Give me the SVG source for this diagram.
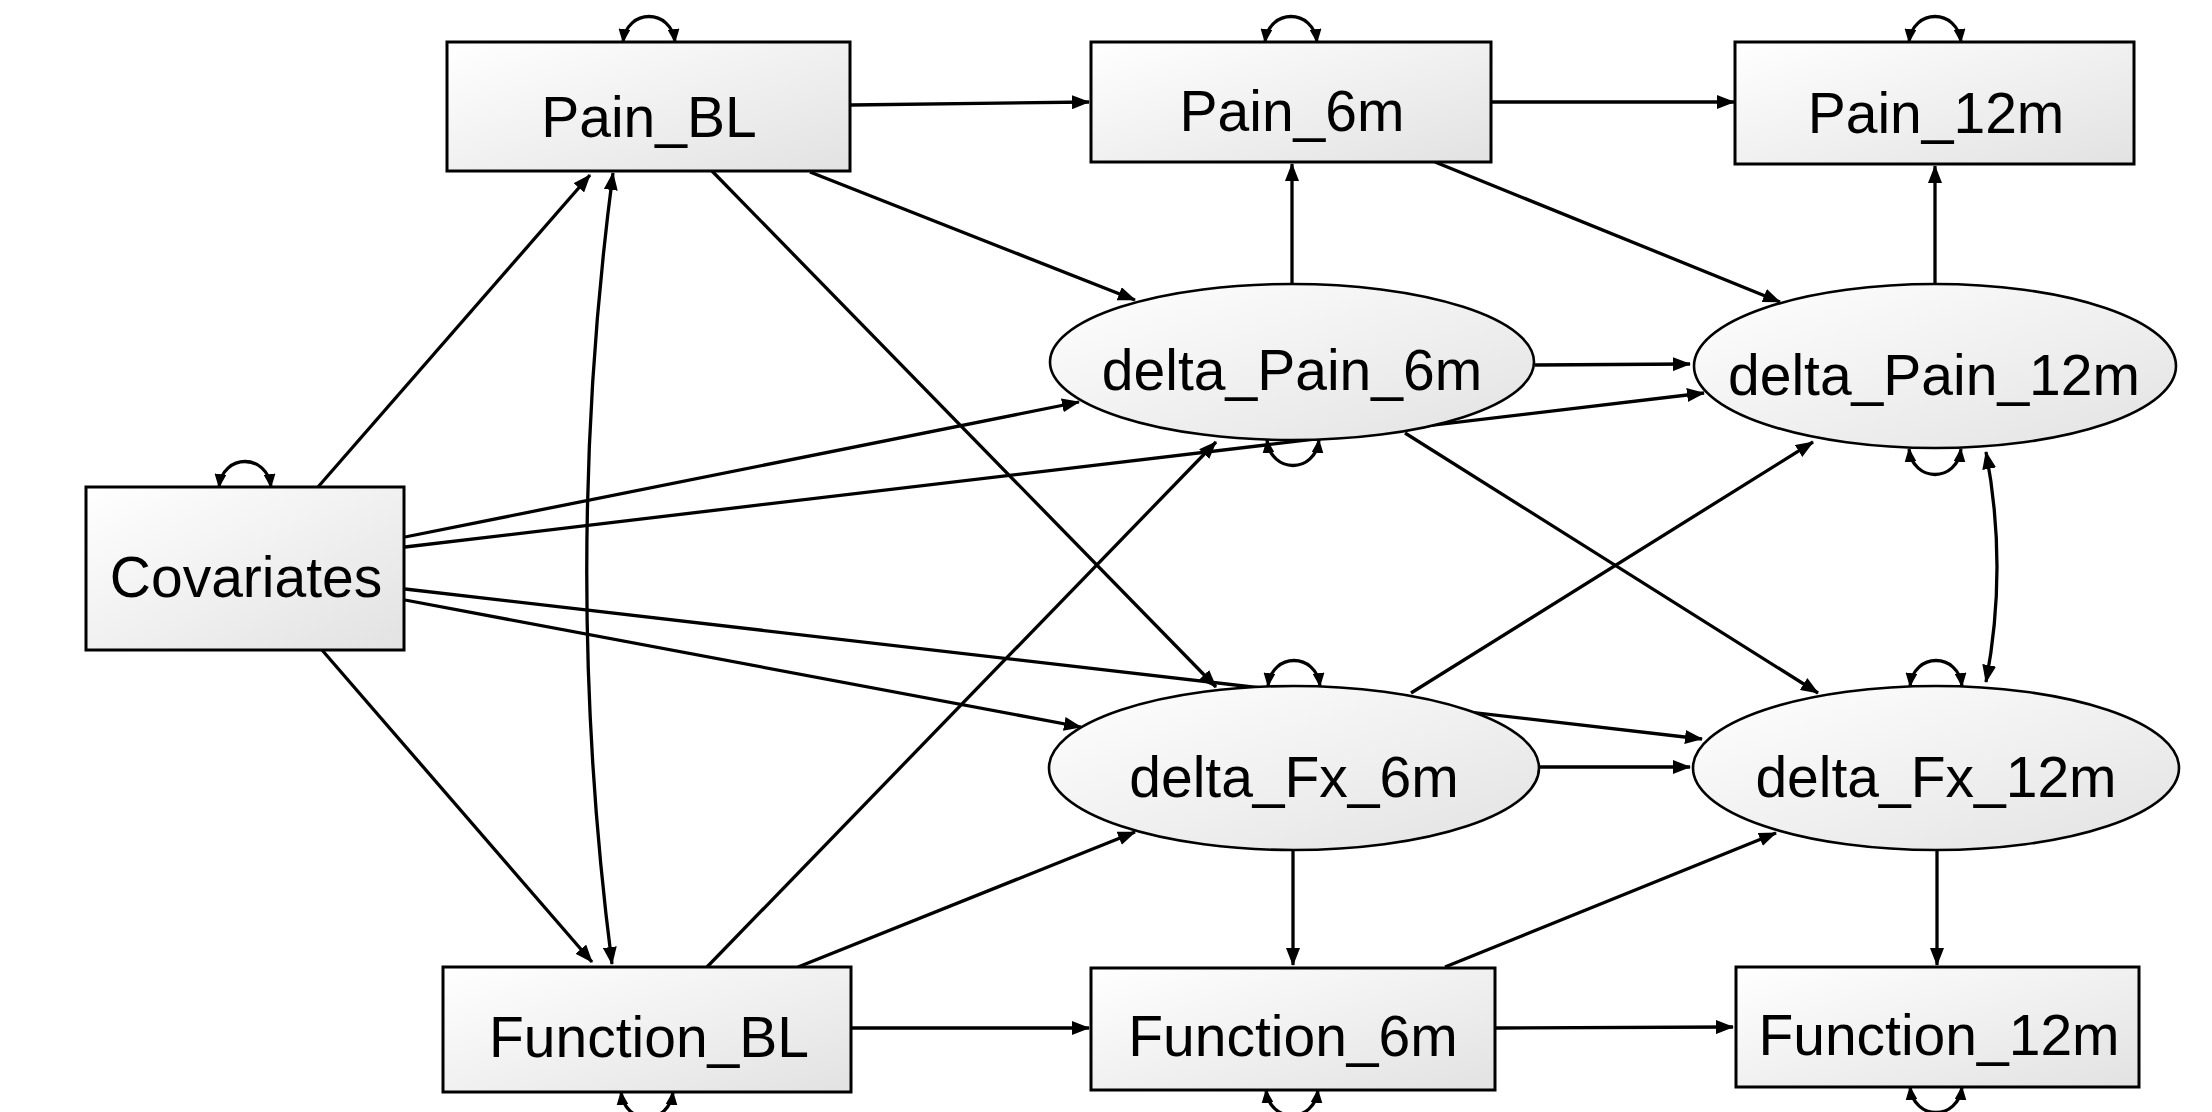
<svg xmlns="http://www.w3.org/2000/svg" width="2212" height="1112" viewBox="0 0 2212 1112">
<style>
.box{fill:url(#g);stroke:#000;stroke-width:3}
.ell{fill:url(#g);stroke:#000;stroke-width:2.6}
.lbl{font-family:"Liberation Sans",Arial,sans-serif;font-size:57px;fill:#000;text-anchor:middle}
.e{fill:none;stroke:#000;stroke-width:3.3;marker-end:url(#ah)}
.d{fill:none;stroke:#000;stroke-width:3.3;marker-start:url(#ah2);marker-end:url(#ah2)}
.v{fill:none;stroke:#000;stroke-width:3.3;marker-start:url(#sh);marker-end:url(#sh)}
</style>
<defs>
<linearGradient id="g" x1="0" y1="0" x2="1" y2="1">
<stop offset="0" stop-color="#ffffff"/>
<stop offset="1" stop-color="#e2e2e2"/>
</linearGradient>
<marker id="ah" markerUnits="userSpaceOnUse" markerWidth="18" markerHeight="14" refX="17" refY="7" orient="auto">
<path d="M0,0 L18,7 L0,14 z" fill="#000"/>
</marker>
<marker id="ah2" markerUnits="userSpaceOnUse" markerWidth="18" markerHeight="14" refX="17" refY="7" orient="auto-start-reverse">
<path d="M0,0 L18,7 L0,14 z" fill="#000"/>
</marker>
<marker id="sh" markerUnits="userSpaceOnUse" markerWidth="14" markerHeight="12" refX="13" refY="6" orient="auto-start-reverse">
<path d="M0,0 L14,6 L0,12 z" fill="#000"/>
</marker>
</defs>
<rect width="2212" height="1112" fill="#ffffff"/>

<g id="connectors">
<path class="e" d="M851,105 L1089,102"/>
<path class="e" d="M1492,102 L1734,102"/>
<path class="e" d="M810,172 L1135,300"/>
<path class="e" d="M712,171 L1216,687"/>
<path class="e" d="M318,487 L590,175"/>
<path class="e" d="M322,650 L592,962"/>
<path class="e" d="M405,537 L1079,402"/>
<path class="e" d="M405,547 L1704,393"/>
<path class="e" d="M405,600 L1081,727"/>
<path class="e" d="M405,589 L1702,739"/>
<path class="d" d="M613,173 Q561,568 612,964"/>
<path class="e" d="M707,967 L1216,442"/>
<path class="e" d="M798,967 L1135,832"/>
<path class="e" d="M852,1028 L1089,1028"/>
<path class="e" d="M1496,1028 L1733,1027"/>
<path class="e" d="M1292,283 L1292,164"/>
<path class="e" d="M1535,365 L1690,364"/>
<path class="e" d="M1405,433 L1818,693"/>
<path class="e" d="M1435,162 L1780,302"/>
<path class="e" d="M1935,283 L1935,166"/>
<path class="e" d="M1411,693 L1813,442"/>
<path class="e" d="M1539,767 L1690,767"/>
<path class="e" d="M1293,850 L1293,965"/>
<path class="e" d="M1445,967 L1776,833"/>
<path class="e" d="M1937,850 L1937,965"/>
<path class="d" d="M1986,452 Q2008,567 1986,682"/>
</g>

<g id="variances">
<path class="v" d="M623,42 C627,8 671,8 675,42"/>
<path class="v" d="M1265,42 C1269,8 1313,8 1317,42"/>
<path class="v" d="M1909,42 C1913,8 1957,8 1961,42"/>
<path class="v" d="M219,487 C223,453 267,453 271,487"/>
<path class="v" d="M1268,686 C1272,652 1316,652 1320,686"/>
<path class="v" d="M1910,686 C1914,652 1958,652 1962,686"/>
<path class="v" d="M1267,440 C1271,474 1315,474 1319,440"/>
<path class="v" d="M1909,449 C1913,483 1957,483 1961,449"/>
<path class="v" d="M621,1092 C625,1126 669,1126 673,1092"/>
<path class="v" d="M1266,1090 C1270,1124 1314,1124 1318,1090"/>
<path class="v" d="M1910,1087 C1914,1121 1958,1121 1962,1087"/>
</g>

<g id="Pain_BL"><rect class="box" x="447" y="42" width="403" height="129"/><text class="lbl" x="649" y="137">Pain_BL</text></g>
<g id="Pain_6m"><rect class="box" x="1091" y="42" width="400" height="120"/><text class="lbl" x="1292" y="131">Pain_6m</text></g>
<g id="Pain_12m"><rect class="box" x="1735" y="42" width="399" height="122"/><text class="lbl" x="1936" y="133">Pain_12m</text></g>
<g id="Covariates"><rect class="box" x="86" y="487" width="318" height="163"/><text class="lbl" x="246" y="597">Covariates</text></g>
<g id="Function_BL"><rect class="box" x="443" y="967" width="408" height="125"/><text class="lbl" x="649" y="1057">Function_BL</text></g>
<g id="Function_6m"><rect class="box" x="1091" y="968" width="404" height="122"/><text class="lbl" x="1293" y="1056">Function_6m</text></g>
<g id="Function_12m"><rect class="box" x="1736" y="967" width="403" height="120"/><text class="lbl" x="1939" y="1055">Function_12m</text></g>
<g id="delta_Pain_6m"><ellipse class="ell" cx="1292" cy="362" rx="242" ry="78"/><text class="lbl" x="1292" y="390">delta_Pain_6m</text></g>
<g id="delta_Pain_12m"><ellipse class="ell" cx="1935" cy="366" rx="241" ry="82"/><text class="lbl" x="1934" y="395">delta_Pain_12m</text></g>
<g id="delta_Fx_6m"><ellipse class="ell" cx="1294" cy="768" rx="245" ry="82"/><text class="lbl" x="1294" y="797">delta_Fx_6m</text></g>
<g id="delta_Fx_12m"><ellipse class="ell" cx="1936" cy="768" rx="243" ry="82"/><text class="lbl" x="1936" y="797">delta_Fx_12m</text></g>
</svg>
